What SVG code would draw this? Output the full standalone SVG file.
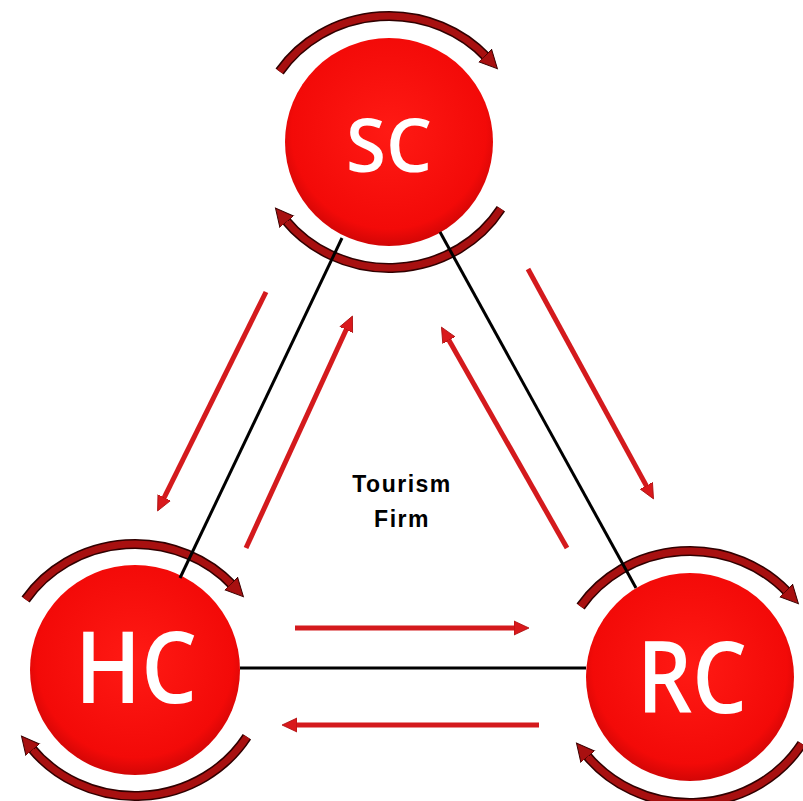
<svg xmlns="http://www.w3.org/2000/svg" width="803" height="801" viewBox="0 0 803 801">
<defs>
  <radialGradient id="ball" cx="50%" cy="45%" r="55%">
    <stop offset="0%" stop-color="#ff1a14"/>
    <stop offset="85%" stop-color="#f30a08"/>
    <stop offset="100%" stop-color="#d20606"/>
  </radialGradient>
  <marker id="cHead" viewBox="0 0 20 20" refX="3" refY="10" markerWidth="20" markerHeight="20" markerUnits="userSpaceOnUse" orient="auto">
    <path d="M0,1 L18,10 L0,19 z" fill="#a81010" stroke="#3a0000" stroke-width="1"/>
  </marker>
  <marker id="sHead" viewBox="0 0 16 16" refX="1" refY="8" markerWidth="16" markerHeight="16" markerUnits="userSpaceOnUse" orient="auto">
    <path d="M0,1 L15,8 L0,15 z" fill="#d9191c" stroke="#a80d0d" stroke-width="0.8"/>
  </marker>
</defs>
<style>
  .ball { fill: url(#ball); }
  .lbl { fill: #ffffff; font-family: "Open Sans", "Noto Sans", sans-serif; font-weight: 600; text-anchor: middle; }
  .arcO { fill: none; stroke: #300000; stroke-width: 10; }
  .arcI { fill: none; stroke: #a81010; stroke-width: 7; }
  .link { stroke: #000000; stroke-width: 3; fill: none; }
  .flow { stroke: #d41a1d; stroke-width: 5; fill: none; marker-end: url(#sHead); }
  .firm { font-family: "Liberation Sans", Arial, sans-serif; font-weight: bold; font-size: 23px; letter-spacing: 1.5px; text-anchor: middle; fill: #000; }
</style>
<rect width="803" height="801" fill="#ffffff"/>

<g id="node-sc" transform="translate(389,142)">
  <circle class="ball" r="104"/>
  <text class="lbl" x="0" y="30" font-size="74" textLength="86" lengthAdjust="spacingAndGlyphs">SC</text>
  <path class="arcO" d="M-109.4,-70.5 A132,126 0 0 1 98.1,-84.3"/>
  <path class="arcI" d="M-109.4,-70.5 A132,126 0 0 1 98.1,-84.3" marker-end="url(#cHead)"/>
  <path class="arcO" d="M111.9,66.8 A132,126 0 0 1 -104,77.6"/>
  <path class="arcI" d="M111.9,66.8 A132,126 0 0 1 -104,77.6" marker-end="url(#cHead)"/>
</g>

<g id="node-hc" transform="translate(135,670)">
  <circle class="ball" r="105"/>
  <text class="lbl" x="1" y="33" font-size="100" textLength="122" lengthAdjust="spacingAndGlyphs">HC</text>
  <path class="arcO" d="M-109.4,-70.5 A132,126 0 0 1 98.1,-84.3"/>
  <path class="arcI" d="M-109.4,-70.5 A132,126 0 0 1 98.1,-84.3" marker-end="url(#cHead)"/>
  <path class="arcO" d="M111.9,66.8 A132,126 0 0 1 -104,77.6"/>
  <path class="arcI" d="M111.9,66.8 A132,126 0 0 1 -104,77.6" marker-end="url(#cHead)"/>
</g>

<g id="node-rc" transform="translate(690,677)">
  <circle class="ball" r="104"/>
  <text class="lbl" x="2" y="36" font-size="100" textLength="110" lengthAdjust="spacingAndGlyphs">RC</text>
  <path class="arcO" d="M-109.4,-70.5 A132,126 0 0 1 98.1,-84.3"/>
  <path class="arcI" d="M-109.4,-70.5 A132,126 0 0 1 98.1,-84.3" marker-end="url(#cHead)"/>
  <path class="arcO" d="M111.9,66.8 A132,126 0 0 1 -104,77.6"/>
  <path class="arcI" d="M111.9,66.8 A132,126 0 0 1 -104,77.6" marker-end="url(#cHead)"/>
</g>

<g id="node-firm">
  <text class="firm" x="402" y="492">Tourism</text>
  <text class="firm" x="402" y="527">Firm</text>
</g>

<g id="connectors">
  <line class="link" x1="342" y1="238" x2="180" y2="578"/>
  <line class="link" x1="440" y1="232" x2="636" y2="588"/>
  <line class="link" x1="240" y1="668" x2="586" y2="668"/>
  <line class="flow" x1="266" y1="292" x2="163.8" y2="498.4"/>
  <line class="flow" x1="246" y1="548" x2="346.6" y2="328.8"/>
  <line class="flow" x1="567" y1="548" x2="448.4" y2="339.3"/>
  <line class="flow" x1="528" y1="269" x2="646.8" y2="486.6"/>
  <line class="flow" x1="295" y1="628" x2="515" y2="628"/>
  <line class="flow" x1="539" y1="725" x2="296" y2="725"/>
</g>
</svg>
